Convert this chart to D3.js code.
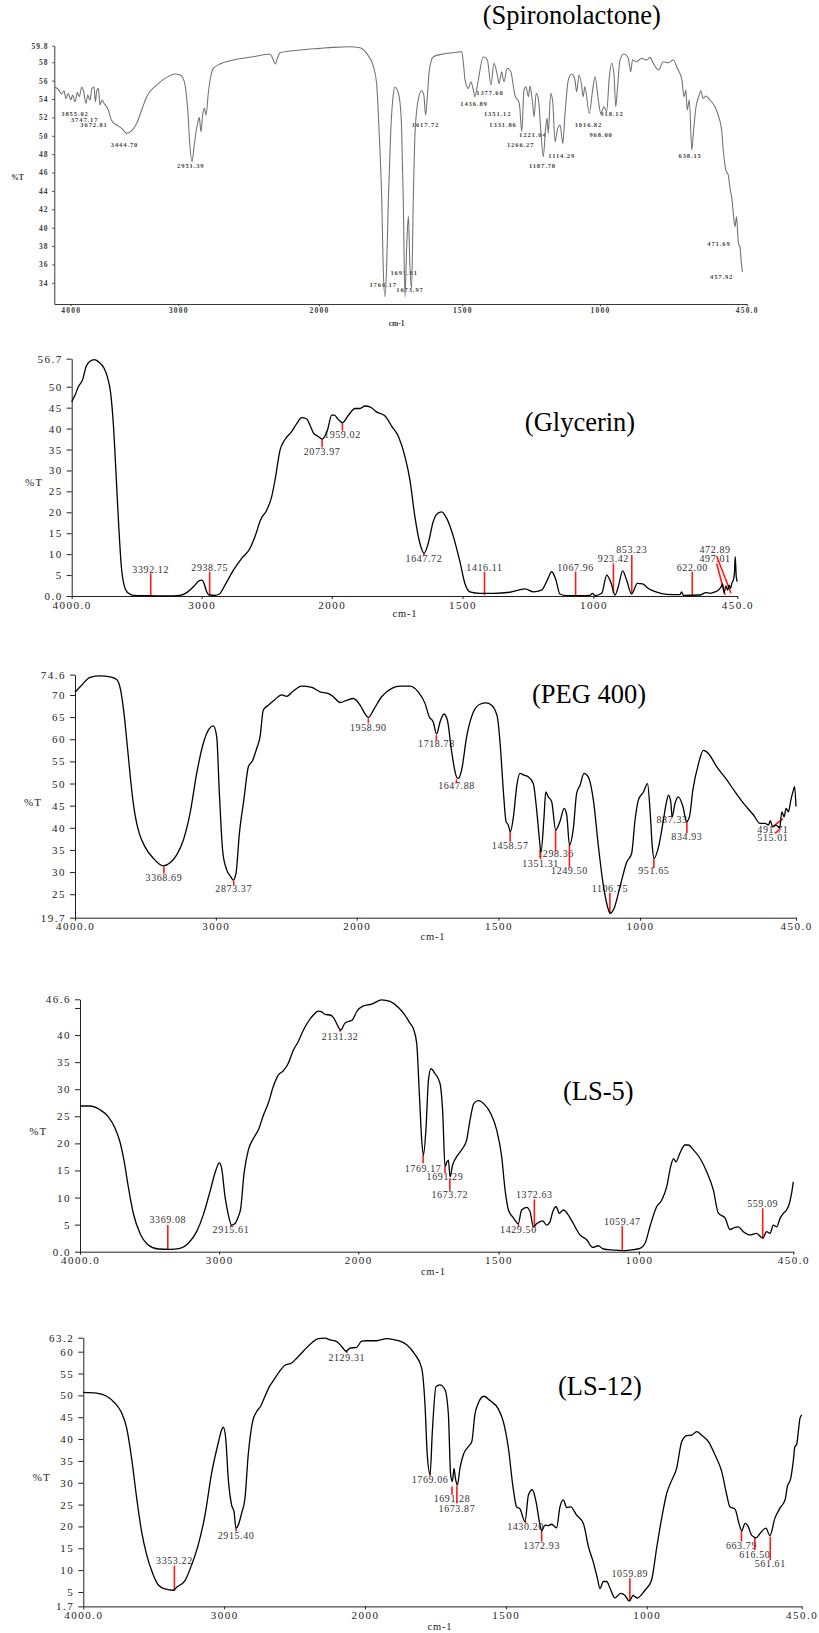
<!DOCTYPE html>
<html>
<head>
<meta charset="utf-8">
<script src="https://cdn.jsdelivr.net/npm/d3@7"></script>
<style>
  body { margin: 0; background: #fff; }
  svg { display: block; }
</style>
</head>
<body>
<svg id="chart" width="819" height="1633"></svg>
<script>
// ---- data ----
const xTickValues = [4000, 3000, 2000, 1500, 1000, 450];
const xTickLabels = ["4000.0", "3000", "2000", "1500", "1000", "450.0"];
const spiroXTickLabels = ["4000", "3000", "2000", "1500", "1000", "450.0"];

const spiroYTicks = [34, 36, 38, 40, 42, 44, 46, 48, 50, 52, 54, 56, 58, 59.8];
const spiroYTickLabels = ["34", "36", "38", "40", "42", "44", "46", "48", "50", "52", "54", "56", "58", "59.8"];
const glyYTicks = [0, 5, 10, 15, 20, 25, 30, 35, 40, 45, 50, 56.7];
const glyYTickLabels = ["0.0", "5", "10", "15", "20", "25", "30", "35", "40", "45", "50", "56.7"];
const pegYTicks = [19.7, 25, 30, 35, 40, 45, 50, 55, 60, 65, 70, 74.6];
const pegYTickLabels = ["19.7", "25", "30", "35", "40", "45", "50", "55", "60", "65", "70", "74.6"];
const ls5YTicks = [0, 5, 10, 15, 20, 25, 30, 35, 40, 45, 46.6];
const ls5YTickLabels = ["0.0", "5", "10", "15", "20", "25", "30", "35", "40", "", "46.6"];
const ls12YTicks = [1.7, 5, 10, 15, 20, 25, 30, 35, 40, 45, 50, 55, 60, 63.2];
const ls12YTickLabels = ["1.7", "5", "10", "15", "20", "25", "30", "35", "40", "45", "50", "55", "60", "63.2"];

// [wavenumber cm-1, %T]
const spiroPoints = [[4152,55.3],[4115,55.05],[4084,54.54],[4062,54.9],[4044,54.07],[4022,54.6],[4000,53.9],[3982,54.43],[3960,53.7],[3938,54.7],[3920,54.25],[3898,55.27],[3883,54.98],[3858,53.53],[3842,54.43],[3821,53.9],[3802,55.16],[3783,55.27],[3771,53.7],[3759,54.8],[3743,55.16],[3728,53.35],[3709,53.9],[3690,53.53],[3672,53.24],[3650,52.8],[3628,51.9],[3604,51.42],[3573,51.17],[3526,50.8],[3480,50.26],[3433,50.55],[3387,51.35],[3340,52.8],[3294,54.25],[3201,55.52],[3108,56.35],[3031,56.72],[2988,56.61],[2969,56.35],[2950,55.34],[2933,52.8],[2917,48.8],[2903,47.17],[2888,48.8],[2874,50.44],[2860,51.53],[2851,52.0],[2839,50.44],[2827,52.25],[2815,52.98],[2803,52.25],[2787,54.61],[2770,56.42],[2751,57.33],[2704,57.8],[2609,58.24],[2467,58.6],[2348,58.86],[2329,58.42],[2310,57.8],[2296,58.42],[2277,59.03],[2135,59.33],[1996,59.51],[1950,59.62],[1892,59.69],[1857,59.58],[1834,58.96],[1810,57.51],[1799,55.7],[1790,50.26],[1781,43.0],[1776,35.75],[1770,32.5],[1764,35.75],[1758,43.0],[1750,50.26],[1741,54.43],[1735,55.27],[1727,55.0],[1717,53.5],[1712,51.0],[1706,43.0],[1700,32.5],[1694,38.0],[1688,41.26],[1683,36.0],[1677,33.4],[1671,43.0],[1665,50.26],[1654,53.9],[1642,54.9],[1634,54.4],[1628,52.25],[1622,54.25],[1615,57.15],[1601,58.6],[1567,58.9],[1532,59.04],[1502,59.15],[1496,57.9],[1490,56.06],[1478,55.16],[1469,55.88],[1460,54.98],[1454,54.25],[1442,56.07],[1424,58.6],[1409,58.24],[1396,55.52],[1385,57.88],[1373,56.61],[1366,55.7],[1357,56.97],[1349,55.88],[1337,57.34],[1324,56.97],[1309,54.43],[1293,53.53],[1284,50.44],[1276,54.98],[1269,55.34],[1260,54.25],[1254,55.4],[1246,53.89],[1239,52.07],[1232,54.61],[1224,54.07],[1215,50.62],[1206,47.72],[1197,50.98],[1192,51.9],[1188,50.26],[1179,54.61],[1172,53.81],[1163,49.35],[1155,50.62],[1145,51.17],[1135,49.17],[1127,52.44],[1115,56.07],[1103,56.72],[1091,56.07],[1085,54.79],[1076,56.61],[1066,55.34],[1061,54.25],[1055,55.34],[1039,52.44],[1026,55.16],[1018,56.43],[1006,53.89],[997,52.44],[985,53.16],[975,52.62],[965,56.43],[956,57.88],[947,56.43],[941,53.16],[935,54.98],[925,58.24],[910,58.9],[894,58.43],[885,56.97],[878,58.24],[863,58.06],[844,58.43],[825,58.24],[813,58.53],[800,57.88],[781,57.15],[763,58.06],[744,57.95],[725,58.24],[710,57.34],[693,56.07],[685,54.25],[678,54.98],[673,52.8],[665,53.89],[656,48.45],[650,50.26],[640,53.16],[630,54.25],[622,54.9],[613,54.07],[603,54.32],[588,53.89],[569,53.16],[557,52.26],[544,50.62],[538,48.45],[528,46.27],[519,45.72],[513,44.45],[505,43.0],[500,41.55],[494,40.1],[488,41.18],[481,38.27],[475,37.9],[471,36.47],[466,35.2]];

// label text, anchor wavenumber, anchor %T
const spiroPeaks = [["3855.02",3960,52.4],["3747.17",3870,51.8],["3672.81",3783,51.2],["3444.70",3500,49.0],["2951.39",2911,46.74],["1768.17",1776,33.86],["1691.81",1703,35.1],["1673.97",1682.5,33.3],["1617.72",1628.4,51.28],["1436.89",1457.5,53.56],["1377.60",1399.5,54.73],["1351.12",1371.5,52.4],["1331.86",1352,51.28],["1221.04",1244,50.11],["1266.27",1288,49.0],["1187.78",1209,46.74],["1114.29",1139,47.87],["1016.82",1042,51.28],["968.00",996,50.11],["918.12",955,52.4],["638.15",662,47.87],["471.69",554,38.29],["457.92",544,34.73]];

const glyPoints = [[4000,46.4],[3974,48.0],[3949,50.0],[3915,51.75],[3890,54.8],[3859,56.1],[3826,56.5],[3795,56.0],[3751,54.4],[3726,52.4],[3700,48.4],[3680,41.2],[3659,29.3],[3638,16.6],[3618,7.0],[3597,2.6],[3564,0.64],[3526,0.16],[3397,0.08],[3269,0],[3167,0.16],[3115,0.8],[3064,2.2],[3018,3.66],[2997,3.8],[2982,3.0],[2962,1.03],[2941,0.24],[2897,0.16],[2864,0.48],[2821,2.6],[2756,6.2],[2692,9.0],[2628,11.4],[2590,14.2],[2546,18.3],[2500,20.5],[2462,23.7],[2436,27.7],[2397,34.9],[2359,37.4],[2308,39.3],[2269,41.2],[2231,42.6],[2192,42.3],[2167,40.8],[2141,39.0],[2103,38.1],[2074,37.5],[2033,39.6],[2000,43.2],[1990,43.2],[1975,42.2],[1959,41.4],[1936,43.2],[1911,44.8],[1892,44.8],[1873,45.4],[1854,45.2],[1829,44.0],[1796,43.0],[1771,40.6],[1745,38.1],[1720,33.3],[1701,27.7],[1682,18.9],[1663,12.6],[1647,10.2],[1631,12.6],[1612,17.8],[1596,19.7],[1580,20.1],[1561,18.6],[1535,14.2],[1510,8.2],[1491,3.0],[1472,1.0],[1433,0.64],[1382,0.64],[1319,0.9],[1261,1.7],[1229,1.0],[1198,1.4],[1176,3.8],[1159,5.8],[1143,3.8],[1128,0.48],[1102,0.08],[1051,0.08],[1013,0.16],[1004,0.64],[994,0.08],[968,0.64],[949,5.0],[934,3.4],[917,0.24],[905,2.2],[888,6.0],[873,3.8],[854,0.48],[832,3.0],[812,2.9],[790,1.8],[758,0.9],[720,0.4],[669,0.32],[663,1.0],[656,0.16],[593,0.24],[570,0.8],[554,0.64],[535,1.0],[523,1.4],[512,2.2],[506,2.9],[501,0.8],[493,2.4],[487,1.4],[481,2.6],[476,1.8],[470,3.2],[465,3.8],[461,5.4],[458,9.4],[454,4.6],[450,3.4]];

// label, marker [wn1, %T1, wn2, %T2], text anchor [wn, %T]
const glyPeaks = [
  ["3392.12",[3392.12,5.4,3392.12,0],[3392.12,5.6]],
  ["2938.75",[2938.75,5.8,2938.75,0.24],[2938.75,6.04]],
  ["2073.97",[2073.97,37.4,2073.97,35.5],[2073.97,33.6]],
  ["1959.02",[1959.02,41.3,1959.02,39.5],[1959.02,37.8]],
  ["1647.72",[1647.72,10.2,1647.72,9.56],[1647.72,8.2]],
  ["1416.11",[1416.11,5.8,1416.11,0.2],[1416.11,6.04]],
  ["1067.96",[1067.96,5.8,1067.96,0.2],[1067.96,6.04]],
  ["923.42",[923.42,7.8,923.42,0.65],[923.42,8.2]],
  ["853.23",[853.23,9.8,853.23,0.65],[853.23,10.2]],
  ["622.00",[622,5.8,622,0],[622,6.04]],
  ["472.89",[529,9.56,474,0.64],[535,10.2]],
  ["497.01",[529,7.8,497,0.24],[535,8.2]]
];

const pegPoints = [[4000,70.6],[3953,72.2],[3893,74.0],[3822,74.3],[3751,74.1],[3704,73.5],[3676,71.1],[3652,65.8],[3628,58.3],[3605,50.8],[3586,45.5],[3562,41.0],[3543,38.7],[3503,35.7],[3444,33.1],[3373,31.4],[3325,32.1],[3278,33.9],[3231,37.2],[3183,43.3],[3136,52.3],[3089,59.1],[3046,62.4],[3018,63.0],[2994,60.6],[2975,47.8],[2951,34.6],[2923,30.5],[2895,29.0],[2876,28.2],[2857,29.7],[2833,38.7],[2800,46.6],[2769,53.8],[2741,55.1],[2710,57.9],[2686,60.6],[2663,66.6],[2627,67.7],[2580,69.0],[2532,70.0],[2497,69.7],[2450,70.9],[2390,72.0],[2319,71.7],[2260,70.7],[2201,70.3],[2166,69.6],[2118,68.3],[2071,68.8],[2024,69.2],[1988,67.7],[1971,65.8],[1959,64.9],[1941,66.6],[1912,69.6],[1876,71.5],[1847,72.0],[1812,72.0],[1783,70.7],[1759,68.1],[1744,65.1],[1730,63.9],[1718,61.2],[1706,63.9],[1692,65.7],[1680,64.3],[1665,57.2],[1650,51.9],[1645,51.2],[1641,51.2],[1630,53.0],[1612,60.6],[1588,66.2],[1565,67.9],[1544,68.2],[1524,67.7],[1504,65.1],[1494,59.1],[1482,47.8],[1473,41.4],[1465,40.6],[1458,39.1],[1447,42.5],[1435,49.6],[1424,52.3],[1410,51.9],[1394,51.5],[1377,50.0],[1365,44.0],[1355,37.2],[1350,34.4],[1339,42.5],[1333,48.1],[1324,47.0],[1312,45.9],[1298,39.5],[1283,41.4],[1268,44.4],[1259,42.9],[1249,36.1],[1235,40.2],[1224,47.8],[1212,49.6],[1198,52.3],[1183,51.5],[1165,46.3],[1147,35.7],[1130,27.1],[1115,22.2],[1106,20.7],[1092,21.8],[1071,26.7],[1047,32.3],[1030,34.2],[1018,41.7],[1006,46.3],[988,48.1],[974,50.0],[965,44.0],[957,35.7],[951,33.1],[935,35.7],[918,41.7],[908,45.5],[900,47.4],[892,45.9],[887,42.5],[877,45.5],[865,47.0],[849,44.8],[836,41.4],[826,42.5],[814,48.5],[794,54.5],[777,57.5],[759,56.8],[730,53.8],[694,50.8],[665,48.1],[635,45.5],[600,42.9],[577,41.0],[559,41.0],[547,40.6],[541,41.6],[532,40.2],[520,40.6],[508,39.9],[500,43.6],[492,42.5],[485,44.4],[477,43.6],[468,46.3],[461,48.1],[455,49.3],[450,44.8]];

const pegPeaks = [
  ["3368.69",[3368.69,31.2,3368.69,29.7],[3368.69,28.05]],
  ["2873.37",[2873.37,28.0,2873.37,27.1],[2873.37,25.57]],
  ["1958.90",[1958.9,64.7,1958.9,63.6],[1958.9,61.85]],
  ["1718.78",[1718.78,60.94,1718.78,59.66],[1718.78,58.17]],
  ["1647.88",[1647.88,50.94,1647.88,50.04],[1647.88,48.68]],
  ["1458.57",[1458.57,39.5,1458.57,36.86],[1458.57,35.14]],
  ["1351.31",[1351.31,34.37,1351.31,32.88],[1351.31,31.21]],
  ["1298.36",[1298.36,39.5,1298.36,34.6],[1298.36,33.33]],
  ["1249.50",[1249.5,36.11,1249.5,31.08],[1249.5,29.5]],
  ["1106.75",[1106.75,25.34,1106.75,20.69],[1106.75,25.57]],
  ["951.65",[951.65,33.11,951.65,30.85],[951.65,29.5]],
  ["887.33",[887.33,42.88,887.33,42.36],[887.33,41.0]],
  ["834.93",[834.93,41.37,834.93,38.75],[834.93,37.24]],
  ["491.71",[529.5,40.4,496,42.1],[531.6,38.89]],
  ["515.01",[523.5,38.75,508.3,39.65],[531.6,37.08]]
];

const ls5Points = [[4000,26.9],[3928,26.9],[3856,26.2],[3796,24.9],[3748,22.8],[3713,20.3],[3684,16.9],[3653,12.0],[3617,7.1],[3569,3.4],[3509,1.24],[3437,0.5],[3353,0.44],[3281,0.62],[3221,1.56],[3162,3.7],[3114,6.8],[3066,11.1],[3023,15.1],[2999,16.4],[2982,15.4],[2958,10.2],[2934,6.8],[2910,4.9],[2886,5.2],[2862,6.5],[2845,8.0],[2821,14.5],[2790,18.8],[2754,20.9],[2718,22.5],[2682,25.2],[2647,27.4],[2611,30.5],[2575,32.6],[2539,33.4],[2503,34.8],[2467,37.2],[2431,38.8],[2395,40.9],[2359,42.5],[2323,43.7],[2287,44.4],[2263,44.3],[2239,43.8],[2203,43.7],[2175,43.1],[2144,41.5],[2127,40.9],[2096,42.2],[2072,42.5],[2043,42.8],[2012,44.3],[1982,45.4],[1952,45.7],[1917,46.5],[1887,46.2],[1857,45.1],[1834,43.7],[1816,42.2],[1804,41.2],[1792,38.5],[1782,28.6],[1774,20.6],[1768,17.8],[1759,22.5],[1750,31.7],[1741,33.8],[1727,32.9],[1709,31.1],[1699,25.5],[1691,15.7],[1684,16.6],[1679,16.9],[1673,13.8],[1664,16.0],[1650,17.5],[1632,18.8],[1614,20.6],[1602,24.3],[1588,27.4],[1572,27.9],[1549,27.1],[1528,25.5],[1507,22.5],[1489,17.5],[1477,11.4],[1465,7.7],[1448,6.3],[1430,5.2],[1418,7.7],[1400,8.2],[1388,7.4],[1376,4.6],[1364,5.2],[1343,5.7],[1329,4.9],[1317,5.5],[1307,7.4],[1295,8.3],[1284,7.1],[1269,7.7],[1252,6.8],[1234,5.2],[1210,3.1],[1186,2.2],[1165,0.8],[1145,1.1],[1127,0.5],[1091,0.3],[1062,0.2],[1032,0.3],[996,0.62],[978,1.56],[961,4.6],[937,8.3],[919,9.5],[901,12.0],[887,15.7],[877,17.2],[868,16.6],[854,18.2],[836,19.7],[824,19.7],[806,18.8],[782,17.2],[759,14.8],[735,11.4],[717,7.1],[693,6.2],[676,4.1],[658,4.5],[646,4.6],[628,3.7],[604,3.1],[581,3.4],[559,2.5],[545,3.7],[533,3.4],[521,4.9],[509,4.6],[497,6.2],[485,7.1],[474,7.7],[464,8.9],[456,10.8],[450,12.9]];

const ls5Peaks = [
  ["3369.08",[3369.08,4.93,3369.08,0.44],[3369.08,5.24]],
  ["2915.61",[2915.61,4.93,2915.61,4.5],[2915.61,3.4]],
  ["2131.32",[2131.32,41.06,2131.32,40.61],[2131.32,39.08]],
  ["1769.17",[1769.17,17.85,1769.17,16.32],[1769.17,14.77]],
  ["1691.29",[1691.29,15.69,1691.29,14.47],[1691.29,13.24]],
  ["1673.72",[1673.72,13.55,1673.72,11.26],[1673.72,9.86]],
  ["1429.50",[1429.5,5.24,1429.5,4.61],[1429.5,3.4]],
  ["1372.63",[1372.63,9.67,1372.63,4.5],[1372.63,9.86]],
  ["1059.47",[1059.47,4.74,1059.47,0.18],[1059.47,4.93]],
  ["559.09",[559.09,8.01,559.09,2.47],[559.09,8.31]]
];

const ls12Points = [[4000,50.7],[3905,50.5],[3834,49.8],[3775,48.2],[3728,46.0],[3692,42.5],[3657,35.6],[3621,26.5],[3586,18.8],[3550,13.5],[3508,9.3],[3467,6.6],[3420,5.7],[3361,5.4],[3333,6.2],[3278,7.6],[3231,11.2],[3184,15.8],[3136,22.6],[3089,32.2],[3042,39.1],[3018,42.1],[3006,42.7],[2989,40.2],[2971,31.0],[2947,24.9],[2930,23.4],[2916,19.6],[2900,20.3],[2876,23.0],[2852,26.5],[2829,36.4],[2798,44.0],[2769,46.3],[2741,47.5],[2710,49.8],[2679,52.0],[2646,53.6],[2604,55.6],[2568,56.9],[2521,57.4],[2485,58.5],[2438,60.1],[2379,62.0],[2332,63.0],[2284,63.1],[2249,62.7],[2201,62.3],[2166,61.2],[2135,60.1],[2107,60.8],[2059,61.0],[2024,62.4],[1994,62.5],[1959,62.5],[1923,63.0],[1894,62.7],[1876,62.4],[1852,61.6],[1823,59.4],[1799,56.3],[1787,47.8],[1779,36.4],[1769,31.9],[1761,41.7],[1748,52.0],[1734,52.4],[1716,51.3],[1704,45.6],[1696,31.8],[1690,30.3],[1684,33.3],[1679,31.0],[1672,29.5],[1663,33.3],[1651,36.4],[1633,38.3],[1621,39.4],[1610,45.6],[1598,48.2],[1578,49.8],[1556,48.8],[1527,46.9],[1509,44.0],[1491,37.9],[1474,28.7],[1462,24.5],[1450,24.0],[1432,21.1],[1420,27.2],[1406,28.4],[1393,25.7],[1381,21.1],[1373,19.0],[1361,20.3],[1349,20.2],[1338,20.5],[1320,19.7],[1308,24.5],[1296,26.1],[1284,24.3],[1270,24.5],[1249,22.6],[1225,20.7],[1207,15.4],[1190,11.9],[1175,8.1],[1166,5.8],[1154,7.4],[1142,7.4],[1130,5.8],[1113,3.6],[1093,4.7],[1077,4.2],[1062,2.9],[1048,4.2],[1034,3.6],[1006,5.4],[983,7.7],[965,15.0],[947,21.9],[929,27.6],[911,30.6],[894,33.3],[876,39.4],[858,40.8],[840,40.9],[823,41.7],[805,40.9],[781,39.4],[758,36.4],[734,32.6],[716,27.2],[705,24.5],[687,24.0],[671,20.3],[663,19.0],[651,20.7],[640,20.0],[628,18.0],[612,17.4],[598,18.4],[577,19.6],[563,17.9],[545,21.9],[527,24.2],[509,26.1],[501,29.1],[489,31.0],[480,34.9],[474,38.3],[468,38.7],[462,41.7],[456,44.8],[450,45.5]];

const ls12Peaks = [
  ["3353.22",[3353.22,11.03,3353.22,5.23],[3353.22,11.35]],
  ["2915.40",[2915.4,19.6,2915.4,18.82],[2915.4,17.14]],
  ["2129.31",[2129.31,60.22,2129.31,59.7],[2129.31,57.93]],
  ["1769.06",[1769.06,32.2,1769.06,31.58],[1769.06,29.91]],
  ["1691.28",[1691.28,29.13,1691.28,27.23],[1691.28,25.55]],
  ["1673.87",[1673.87,29.36,1673.87,25.33],[1673.87,23.4]],
  ["1430.20",[1430.2,21.27,1430.2,20.74],[1430.2,19.2]],
  ["1372.93",[1372.93,18.98,1372.93,16.53],[1372.93,14.78]],
  ["1059.89",[1059.89,8.14,1059.89,2.94],[1059.89,8.37]],
  ["663.79",[663.79,18.98,663.79,16.53],[663.79,14.78]],
  ["616.50",[616.5,17.44,616.5,14.62],[616.5,12.72]],
  ["561.61",[561.61,17.67,561.61,12.33],[561.61,10.66]]
];

// ---- drawing ----
const svg = d3.select("#chart");
svg.append("rect").attr("width", 819).attr("height", 1633).attr("fill", "#fff");

const serif = "'Liberation Serif', 'Times New Roman', serif";

function styleAxis(g, size, spacing, color, weight) {
  g.attr("font-family", serif).attr("font-size", size).attr("font-weight", weight || "normal");
  g.selectAll("text").attr("fill", color).style("letter-spacing", spacing + "px");
  g.select(".domain").attr("stroke", color).attr("stroke-width", 1);
  g.selectAll(".tick line").attr("stroke", color);
}

function drawSpiro() {
  const x = d3.scaleLinear()
    .domain([4152, 4000, 3000, 2000, 1500, 1000, 450])
    .range([54.3, 70.7, 178.3, 319, 462.3, 600, 746.7]);
  const y = d3.scaleLinear().domain([31.7, 59.8]).range([304, 45.7]);
  const axisColor = "#3a3a3a";

  const gx = svg.append("g").attr("transform", "translate(0,304)")
    .call(d3.axisBottom(x).tickValues(xTickValues)
      .tickFormat((d, i) => spiroXTickLabels[i]).tickSize(2).tickSizeOuter(0).tickPadding(2));
  styleAxis(gx, 7.5, 1.2, axisColor, "bold");

  const gy = svg.append("g").attr("transform", "translate(54.3,0)")
    .call(d3.axisLeft(y).tickValues(spiroYTicks)
      .tickFormat((d, i) => spiroYTickLabels[i]).tickSize(2).tickSizeOuter(0).tickPadding(4));
  styleAxis(gy, 7.5, 0.9, axisColor, "bold");

  svg.append("g").selectAll("text").data(spiroPeaks).join("text")
    .attr("x", d => x(d[1])).attr("y", d => y(d[2]))
    .attr("text-anchor", "middle").attr("dominant-baseline", "central")
    .attr("font-family", serif).attr("font-size", 6.5).attr("font-weight", "bold")
    .style("letter-spacing", "0.9px").attr("fill", "#444")
    .text(d => d[0]);

  const line = d3.line().x(d => x(d[0])).y(d => y(d[1])).curve(d3.curveMonotoneX);
  svg.append("path").datum(spiroPoints)
    .attr("fill", "none").attr("stroke", "#707070").attr("stroke-width", 1.05).attr("d", line);

  svg.append("text").attr("x", 17.5).attr("y", 177).attr("dominant-baseline", "central")
    .attr("text-anchor", "middle").attr("font-family", serif).attr("font-size", 7.5)
    .attr("font-weight", "bold").attr("fill", axisColor).text("%T");
  svg.append("text").attr("x", 396.7).attr("y", 323.3).attr("dominant-baseline", "central")
    .attr("text-anchor", "middle").attr("font-family", serif).attr("font-size", 7.5)
    .attr("font-weight", "bold").attr("fill", axisColor).text("cm-1");
  svg.append("text").attr("x", 571.7).attr("y", 24).attr("text-anchor", "middle")
    .attr("font-family", serif).attr("font-size", 26.5).attr("fill", "#000").text("(Spironolactone)");
}

function drawPanel(p) {
  const x = d3.scaleLinear().domain([4000, 2000, 450]).range(p.xRange);
  const y = d3.scaleLinear().domain(p.yDomain).range(p.yRange);

  const gx = svg.append("g").attr("transform", `translate(0,${p.yRange[0]})`)
    .call(d3.axisBottom(x).tickValues(xTickValues)
      .tickFormat((d, i) => xTickLabels[i]).tickSize(3).tickSizeOuter(0).tickPadding(2));
  styleAxis(gx, 11, 1.5, "#222");

  const gy = svg.append("g").attr("transform", `translate(${p.xRange[0]},0)`)
    .call(d3.axisLeft(y).tickValues(p.yTicks)
      .tickFormat((d, i) => p.yTickLabels[i]).tickSize(5).tickSizeOuter(0).tickPadding(4));
  styleAxis(gy, 11, 1.5, "#222");

  svg.append("g").selectAll("text").data(p.peaks).join("text")
    .attr("x", d => x(d[2][0])).attr("y", d => y(d[2][1]))
    .attr("text-anchor", "middle")
    .attr("font-family", serif).attr("font-size", 10)
    .style("letter-spacing", "0.6px").attr("fill", "#333")
    .text(d => d[0]);

  svg.append("g").selectAll("line").data(p.peaks).join("line")
    .attr("x1", d => x(d[1][0])).attr("y1", d => y(d[1][1]))
    .attr("x2", d => x(d[1][2])).attr("y2", d => y(d[1][3]))
    .attr("stroke", "#ff1a1a").attr("stroke-width", 1.6);

  const line = d3.line().x(d => x(d[0])).y(d => y(d[1])).curve(d3.curveMonotoneX);
  svg.append("path").datum(p.points)
    .attr("fill", "none").attr("stroke", "#000").attr("stroke-width", 1.3).attr("d", line);

  svg.append("text").attr("x", p.pctAt[0]).attr("y", p.pctAt[1]).attr("dominant-baseline", "central")
    .attr("text-anchor", "middle").attr("font-family", serif).attr("font-size", 11)
    .style("letter-spacing", "1px").attr("fill", "#222").text("%T");
  svg.append("text").attr("x", p.cmAt[0]).attr("y", p.cmAt[1]).attr("dominant-baseline", "central")
    .attr("text-anchor", "middle").attr("font-family", serif).attr("font-size", 10.5)
    .style("letter-spacing", "0.8px").attr("fill", "#222").text("cm-1");
  svg.append("text").attr("x", p.titleAt[0]).attr("y", p.titleAt[1]).attr("text-anchor", "middle")
    .attr("font-family", serif).attr("font-size", 26.5).attr("fill", "#000").text(p.title);
}

drawSpiro();

drawPanel({
  title: "(Glycerin)", points: glyPoints, peaks: glyPeaks,
  yTicks: glyYTicks, yTickLabels: glyYTickLabels, yDomain: [0, 56.7],
  xRange: [71.7, 331.7, 737.3], yRange: [596, 358.7],
  titleAt: [580, 430.5], pctAt: [34, 482], cmAt: [405, 613.3]
});

drawPanel({
  title: "(PEG 400)", points: pegPoints, peaks: pegPeaks,
  yTicks: pegYTicks, yTickLabels: pegYTickLabels, yDomain: [19.7, 74.6],
  xRange: [75, 356.7, 796], yRange: [917.7, 674.6],
  titleAt: [589, 703.3], pctAt: [33, 801.7], cmAt: [433, 936.7]
});

drawPanel({
  title: "(LS-5)", points: ls5Points, peaks: ls5Peaks,
  yTicks: ls5YTicks, yTickLabels: ls5YTickLabels, yDomain: [0, 46.6],
  xRange: [80, 358.3, 793.3], yRange: [1251.7, 999.3],
  titleAt: [598.3, 1099.5], pctAt: [38.3, 1130.7], cmAt: [433.3, 1271.7]
});

drawPanel({
  title: "(LS-12)", points: ls12Points, peaks: ls12Peaks,
  yTicks: ls12YTicks, yTickLabels: ls12YTickLabels, yDomain: [1.7, 63.2],
  xRange: [83.3, 365, 801.7], yRange: [1606.4, 1337.7],
  titleAt: [600, 1394.5], pctAt: [41.7, 1477.3], cmAt: [440, 1626.7]
});
</script>
</body>
</html>
